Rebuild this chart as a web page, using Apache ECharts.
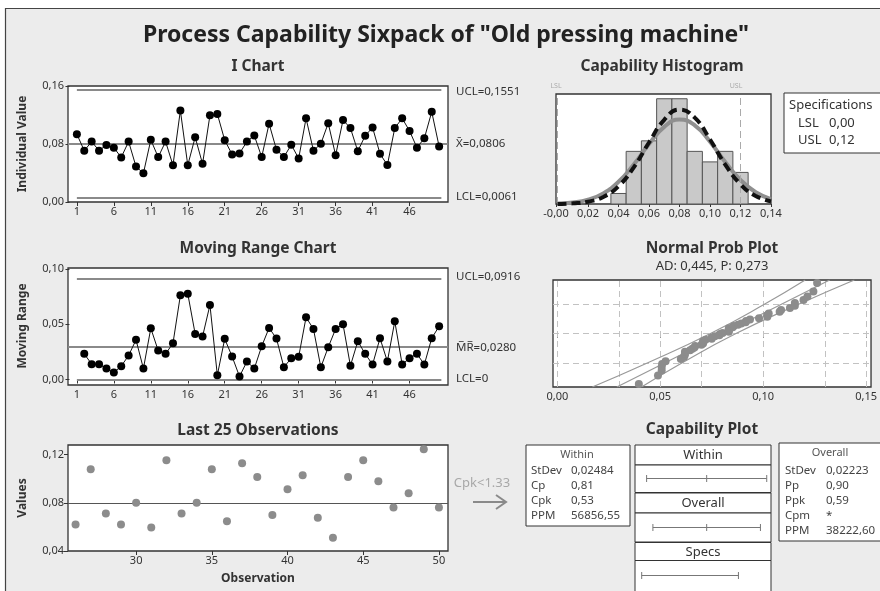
<!DOCTYPE html>
<html><head><meta charset="utf-8">
<script src="https://cdn.jsdelivr.net/npm/echarts@6/dist/echarts.min.js"></script>
<style>html,body{margin:0;padding:0;background:#fff}#c{width:880px;height:591px}</style>
</head><body><div id="c"></div>
<script>
// ---------- data ----------
const observations = [1,2,3,4,5,6,7,8,9,10,11,12,13,14,15,16,17,18,19,20,21,22,23,24,25,26,27,28,29,30,31,32,33,34,35,36,37,38,39,40,41,42,43,44,45,46,47,48,49,50];
const individualValues = [0.0936,0.0708,0.0833,0.0708,0.0787,0.0750,0.0615,0.0833,0.0489,0.0396,
  0.0857,0.0619,0.0833,0.0507,0.1262,0.0507,0.0894,0.0526,0.1196,0.1215,
  0.0852,0.0656,0.0670,0.0833,0.0917,0.0620,0.1080,0.0720,0.0620,0.0790,
  0.0600,0.1154,0.0708,0.0803,0.1087,0.0645,0.1130,0.1020,0.0700,0.0915,
  0.1027,0.0666,0.0509,0.1020,0.1154,0.0980,0.0750,0.0878,0.1244,0.0765];
const mrObservations = [2,3,4,5,6,7,8,9,10,11,12,13,14,15,16,17,18,19,20,21,22,23,24,25,26,27,28,29,30,31,32,33,34,35,36,37,38,39,40,41,42,43,44,45,46,47,48,49,50];
const movingRanges = [0.0232,0.0139,0.0139,0.0099,0.0063,0.0121,0.0217,0.0359,0.0099,0.0464,
  0.0262,0.0232,0.0328,0.0762,0.0777,0.0413,0.0389,0.0675,0.0039,0.0368,
  0.0208,0.0027,0.0163,0.0099,0.0301,0.0467,0.0371,0.0111,0.0193,0.0205,
  0.0563,0.0458,0.0111,0.0292,0.0458,0.0500,0.0124,0.0346,0.0232,0.0136,
  0.0374,0.0163,0.0527,0.0136,0.0193,0.0232,0.0136,0.0374,0.0482];
const last25Obs = [26,27,28,29,30,31,32,33,34,35,36,37,38,39,40,41,42,43,44,45,46,47,48,49,50];
const last25Values = [0.0621,0.1079,0.0712,0.0621,0.0800,0.0596,0.1153,0.0712,0.0800,0.1079,
  0.0648,0.1128,0.1015,0.0698,0.0913,0.1029,0.0676,0.0510,0.1015,0.1153,
  0.0979,0.0761,0.0880,0.1244,0.0761];
const iUCL = 0.1551, iMean = 0.0806, iLCL = 0.0061;
const mrUCL = 0.0916, mrMean = 0.0280, mrLCL = 0;
const histBinCenters = [0.04,0.05,0.06,0.07,0.08,0.09,0.10,0.11,0.12];
const histCounts = [1,5,6,10,10,5,4,5,3];
const histBinWidth = 0.01;
const curveX = [0,0.01,0.02,0.03,0.04,0.05,0.06,0.07,0.08,0.09,0.10,0.11,0.12,0.13,0.14];
const curveOverall = [0.01,0.06,0.22,0.67,1.69,3.48,5.84,8.0,8.97,8.2,6.13,3.74,1.87,0.76,0.25];
const curveWithin = [0.04,0.14,0.41,1.01,2.11,3.76,5.69,7.33,8.03,7.48,5.92,3.99,2.28,1.11,0.46];
const specLSL = 0, specUSL = 0.12;
const probBandZ = [-2.326,-1.282,0,1.282,2.326];
const probBandLower = [0.0170,0.0437,0.0744,0.1008,0.1204];
const probFit = [0.0289,0.0521,0.0806,0.1091,0.1323];
const probBandUpper = [0.0409,0.0605,0.0868,0.1175,0.1443];
const probGridX = [0,0.025,0.05,0.075,0.10,0.125,0.15];
const probGridZ = [-1.2816,0,1.2816];
const capWithin = [0.0061,0.0806,0.1551];
const capOverall = [0.0139,0.0806,0.1473];
const capSpecs = [0,0.12];
// tick labels
const iTicksX = [1,6,11,16,21,26,31,36,41,46];
const iTicksY = [0,0.08,0.16];
const mrTicksY = [0,0.05,0.10];
const l25TicksX = [30,35,40,45,50];
const l25TicksY = [0.04,0.08,0.12];
const histTicks = [-0.001,0.02,0.04,0.06,0.08,0.10,0.12,0.14];
const probTicks = [0,0.05,0.10,0.15];

// ---------- helpers ----------
const FF = '"Noto Sans", "DejaVu Sans", sans-serif';
const comma = v => v.toFixed(2).replace('.', ',');
function invNorm(p){ // normal score for probability plot positions
  const q = p < 0.5 ? p : 1 - p;
  const t = Math.sqrt(-2 * Math.log(q));
  const z = t - (2.515517 + 0.802853*t + 0.010328*t*t) / (1 + 1.432788*t + 0.189269*t*t + 0.001308*t*t*t);
  return p < 0.5 ? -z : z;
}
const sorted = individualValues.slice().sort((a,b)=>a-b);
const probPoints = sorted.map((v,i)=>[v, invNorm((i+1-0.3)/(sorted.length+0.4))]);

function axis(gi, min, max, ticks, fmt, show){
  return {
    type:'value', gridIndex:gi, min, max, scale:false,
    axisLine:{show:false}, splitLine:{show:false},
    axisTick:{show:!!show, customValues:ticks, length:4, inside:false, lineStyle:{color:'#333'}},
    axisLabel:{show:!!show, customValues:ticks, formatter:fmt, fontSize:11, color:'#333', margin:4, fontFamily:FF}
  };
}
const frame = {show:true, backgroundColor:'#fff', borderColor:'#333', borderWidth:1.3};
const grids = [
  Object.assign({left:68, top:86, width:380, height:116}, frame),
  Object.assign({left:68, top:268, width:380, height:117}, frame),
  Object.assign({left:68, top:445, width:380, height:106}, frame),
  Object.assign({left:556, top:94, width:215, height:110}, frame),
  Object.assign({left:553, top:280, width:320, height:107}, frame),
  {left:635, top:465, width:136, height:27, show:false},
  {left:635, top:513, width:136, height:29, show:false},
  {left:635, top:561, width:136, height:29, show:false}
];
const intFmt = v => String(Math.round(v));
const xAxes = [
  axis(0,-0.2,51.2,iTicksX,intFmt,true),
  axis(1,-0.2,51.2,iTicksX,intFmt,true),
  axis(2,25.5,50.6,l25TicksX,intFmt,true),
  axis(3,-0.001,0.14,histTicks,comma,true),
  axis(4,-0.0021,0.1524,probTicks,comma,true),
  axis(5,-0.0083,0.1604,[],comma,false),
  axis(6,-0.0083,0.1604,[],comma,false),
  axis(7,-0.0083,0.1604,[],comma,false)
];
xAxes[3].axisTick.length = 3;
const yAxes = [
  axis(0,0,0.16,iTicksY,comma,true),
  axis(1,-0.005,0.101,mrTicksY,comma,true),
  axis(2,0.04,0.128,l25TicksY,comma,true),
  axis(3,0,10.45,[],comma,false),
  axis(4,-2.326,2.326,[],comma,false),
  axis(5,-1,1,[],comma,false),
  axis(6,-1,1,[],comma,false),
  axis(7,-1,1,[],comma,false)
];
const ctrlStyle = {color:'#8a8a8a', width:1.8, type:'solid'};
function hLine(y, x0, x1){ return [{coord:[x0,y]},{coord:[x1,y]}]; }

const series = [
  { type:'line', xAxisIndex:0, yAxisIndex:0, z:5,
    data: observations.map((o,i)=>[o, individualValues[i]]),
    symbol:'circle', symbolSize:8, itemStyle:{color:'#000'}, lineStyle:{color:'#111', width:1},
    markLine:{silent:true, symbol:['none','none'], label:{show:false}, lineStyle:ctrlStyle, z:3,
      data:[hLine(iUCL,1,50.3), hLine(iLCL,1,50.3), {yAxis:iMean}]} },
  { type:'line', xAxisIndex:1, yAxisIndex:1, z:5,
    data: mrObservations.map((o,i)=>[o, movingRanges[i]]),
    symbol:'circle', symbolSize:8, itemStyle:{color:'#000'}, lineStyle:{color:'#111', width:1},
    markLine:{silent:true, symbol:['none','none'], label:{show:false}, lineStyle:ctrlStyle, z:3,
      data:[hLine(mrUCL,1,50.3), hLine(mrLCL,1,50.3), {yAxis:mrMean}]} },
  { type:'scatter', xAxisIndex:2, yAxisIndex:2, z:5,
    data: last25Obs.map((o,i)=>[o, last25Values[i]]),
    symbolSize:8, itemStyle:{color:'#8c8c8c', opacity:1},
    markLine:{silent:true, symbol:['none','none'], label:{show:false}, lineStyle:{color:'#555', width:1.2, type:'solid'}, data:[{yAxis:iMean}]} },
  { type:'custom', xAxisIndex:3, yAxisIndex:3, z:2,
    data: histBinCenters.map((c,i)=>[c, histCounts[i]]),
    encode:{x:0, y:1},
    renderItem:(params, api)=>{
      const c = api.value(0), n = api.value(1);
      const p0 = api.coord([c - histBinWidth/2, 0]);
      const p1 = api.coord([c + histBinWidth/2, n]);
      return {type:'rect', shape:{x:p0[0], y:p1[1], width:p1[0]-p0[0], height:p0[1]-p1[1]},
        style:{fill:'#c9c9c9', stroke:'#555', lineWidth:1}};
    } },
  { type:'line', xAxisIndex:3, yAxisIndex:3, z:4, smooth:true, symbol:'none',
    data: curveX.map((x,i)=>[x, curveWithin[i]]),
    lineStyle:{color:'#8f8f8f', width:4},
    markLine:{silent:true, symbol:['none','none'], label:{show:false},
      lineStyle:{color:'#aaa', width:1, type:[7,4]}, data:[{xAxis:specLSL},{xAxis:specUSL}]} },
  { type:'line', xAxisIndex:3, yAxisIndex:3, z:5, smooth:true, symbol:'none',
    data: curveX.map((x,i)=>[x, curveOverall[i]]),
    lineStyle:{color:'#111', width:4, type:[9,5]} },
  { type:'line', xAxisIndex:4, yAxisIndex:4, z:3, smooth:true, symbol:'none',
    data: probBandZ.map((z,i)=>[probBandLower[i], z]), lineStyle:{color:'#999', width:1.2},
    markLine:{silent:true, symbol:['none','none'], label:{show:false}, z:1,
      lineStyle:{color:'#c2c2c2', width:1, type:[6,4]},
      data: probGridX.map(x=>({xAxis:x})).concat(probGridZ.map(z=>({yAxis:z})))} },
  { type:'line', xAxisIndex:4, yAxisIndex:4, z:3, symbol:'none',
    data: probBandZ.map((z,i)=>[probFit[i], z]), lineStyle:{color:'#999', width:1.2} },
  { type:'line', xAxisIndex:4, yAxisIndex:4, z:3, smooth:true, symbol:'none',
    data: probBandZ.map((z,i)=>[probBandUpper[i], z]), lineStyle:{color:'#999', width:1.2} },
  { type:'scatter', xAxisIndex:4, yAxisIndex:4, z:5, data: probPoints,
    symbolSize:8, itemStyle:{color:'#8c8c8c', opacity:1} },
  ...[capWithin, capOverall, capSpecs].map((arr,k)=>({
    type:'line', xAxisIndex:5+k, yAxisIndex:5+k, z:5,
    data: arr.map(v=>[v,0]), symbol:'rect', symbolSize:[1,7],
    itemStyle:{color:'#777'}, lineStyle:{color:'#777', width:1} }))
];

// ---------- texts & boxes ----------
const G = [];
function txt(x, y, text, o){
  o = o || {};
  const st = {text, fill:o.color||'#333', fontSize:o.size||11.5, fontWeight:o.bold?'bold':'normal', fontFamily:FF,
    textAlign:o.align||'left', align:o.align||'left', textVerticalAlign:'middle', verticalAlign:'middle'};
  const el = {type:'text', x, y, z:10, style:st};
  if (o.rot) el.rotation = o.rot;
  G.push(el);
}
function box(x, y, w, h, o){
  o = o || {};
  G.push({type:'rect', z:1, shape:{x, y, width:w, height:h}, style:{fill:o.fill||'#fff', stroke:o.stroke||'#333', lineWidth:o.lw||1}});
}
// page frame
G.push({type:'rect', z:0, shape:{x:0,y:0,width:880,height:8}, style:{fill:'#fff'}});
G.push({type:'rect', z:0, shape:{x:0,y:0,width:5,height:591}, style:{fill:'#fff'}});
G.push({type:'polyline', z:1, shape:{points:[[5.5,591],[5.5,8.5],[880,8.5]]}, style:{stroke:'#444', lineWidth:1.2, fill:null}});

const TS = 15.5;
txt(446, 35, 'Process Capability Sixpack of "Old pressing machine"', {size:23, bold:true, align:'center', color:'#222'});
// I chart
txt(258, 67, 'I Chart', {size:TS, bold:true, align:'center'});
txt(23, 144, 'Individual Value', {size:12, bold:true, align:'center', rot:Math.PI/2});
txt(456, 92, 'UCL=0,1551');
txt(456, 144, 'X\u0304=0,0806');
txt(456, 197, 'LCL=0,0061');
// MR chart
txt(258, 249, 'Moving Range Chart', {size:TS, bold:true, align:'center'});
txt(23, 326, 'Moving Range', {size:12, bold:true, align:'center', rot:Math.PI/2});
txt(456, 277, 'UCL=0,0916');
txt(456, 348, 'M\u0305R\u0305=0,0280');
txt(456, 379, 'LCL=0');
// last 25
txt(258, 431, 'Last 25 Observations', {size:TS, bold:true, align:'center'});
txt(23, 498, 'Values', {size:12, bold:true, align:'center', rot:Math.PI/2});
txt(258, 579, 'Observation', {size:12, bold:true, align:'center'});
txt(482, 483, 'Cpk<1.33', {size:13, color:'#a8a8a8', align:'center'});
G.push({type:'line', z:10, shape:{x1:473,y1:502,x2:506,y2:502}, style:{stroke:'#8a8a8a', lineWidth:2}});
G.push({type:'polyline', z:10, shape:{points:[[496,495],[506,502],[496,509]]}, style:{stroke:'#8a8a8a', lineWidth:2, fill:null}});
// histogram
txt(662, 67, 'Capability Histogram', {size:TS, bold:true, align:'center'});
txt(556, 86, 'LSL', {size:7, color:'#aaa', align:'center'});
txt(736, 86, 'USL', {size:7, color:'#aaa', align:'center'});
box(784, 93, 100, 60);
txt(789, 105, 'Specifications', {size:13});
txt(798, 123, 'LSL', {size:13});
txt(829, 123, '0,00', {size:13});
txt(798, 140, 'USL', {size:13});
txt(829, 140, '0,12', {size:13});
// prob plot
txt(712, 249, 'Normal Prob Plot', {size:TS, bold:true, align:'center'});
txt(712, 266, 'AD: 0,445, P: 0,273', {size:13, align:'center'});
// capability plot
txt(702, 430, 'Capability Plot', {size:TS, bold:true, align:'center'});
box(526, 445, 104, 81);
txt(577, 455, 'Within', {size:11, align:'center', color:'#555'});
[['StDev','0,02484'],['Cp','0,81'],['Cpk','0,53'],['PPM','56856,55']].forEach((r,i)=>{
  txt(531, 470.5 + i*15, r[0], {size:11.5, color:'#444'});
  txt(571, 470.5 + i*15, r[1], {size:11.5, color:'#444'});
});
box(635, 445, 136, 20); txt(703, 455, 'Within', {size:13, align:'center'});
box(635, 465, 136, 27.5);
box(635, 493, 136, 20); txt(703, 503, 'Overall', {size:13, align:'center'});
box(635, 513, 136, 29);
box(635, 542.5, 136, 18); txt(703, 552, 'Specs', {size:13, align:'center'});
box(635, 560.5, 136, 35);
box(779, 443, 105, 98);
txt(830, 453, 'Overall', {size:11, align:'center', color:'#555'});
[['StDev','0,02223'],['Pp','0,90'],['Ppk','0,59'],['Cpm','*'],['PPM','38222,60']].forEach((r,i)=>{
  txt(785, 470.5 + i*15, r[0], {size:11.5, color:'#444'});
  txt(826, 470.5 + i*15, r[1], {size:11.5, color:'#444'});
});

const chart = echarts.init(document.getElementById('c'), null, {renderer:'canvas'});
chart.setOption({
  backgroundColor:'#ececec',
  animation:false,
  textStyle:{fontFamily:FF},
  grid:grids, xAxis:xAxes, yAxis:yAxes, series, graphic:{elements:G}
});
</script>
</body></html>
